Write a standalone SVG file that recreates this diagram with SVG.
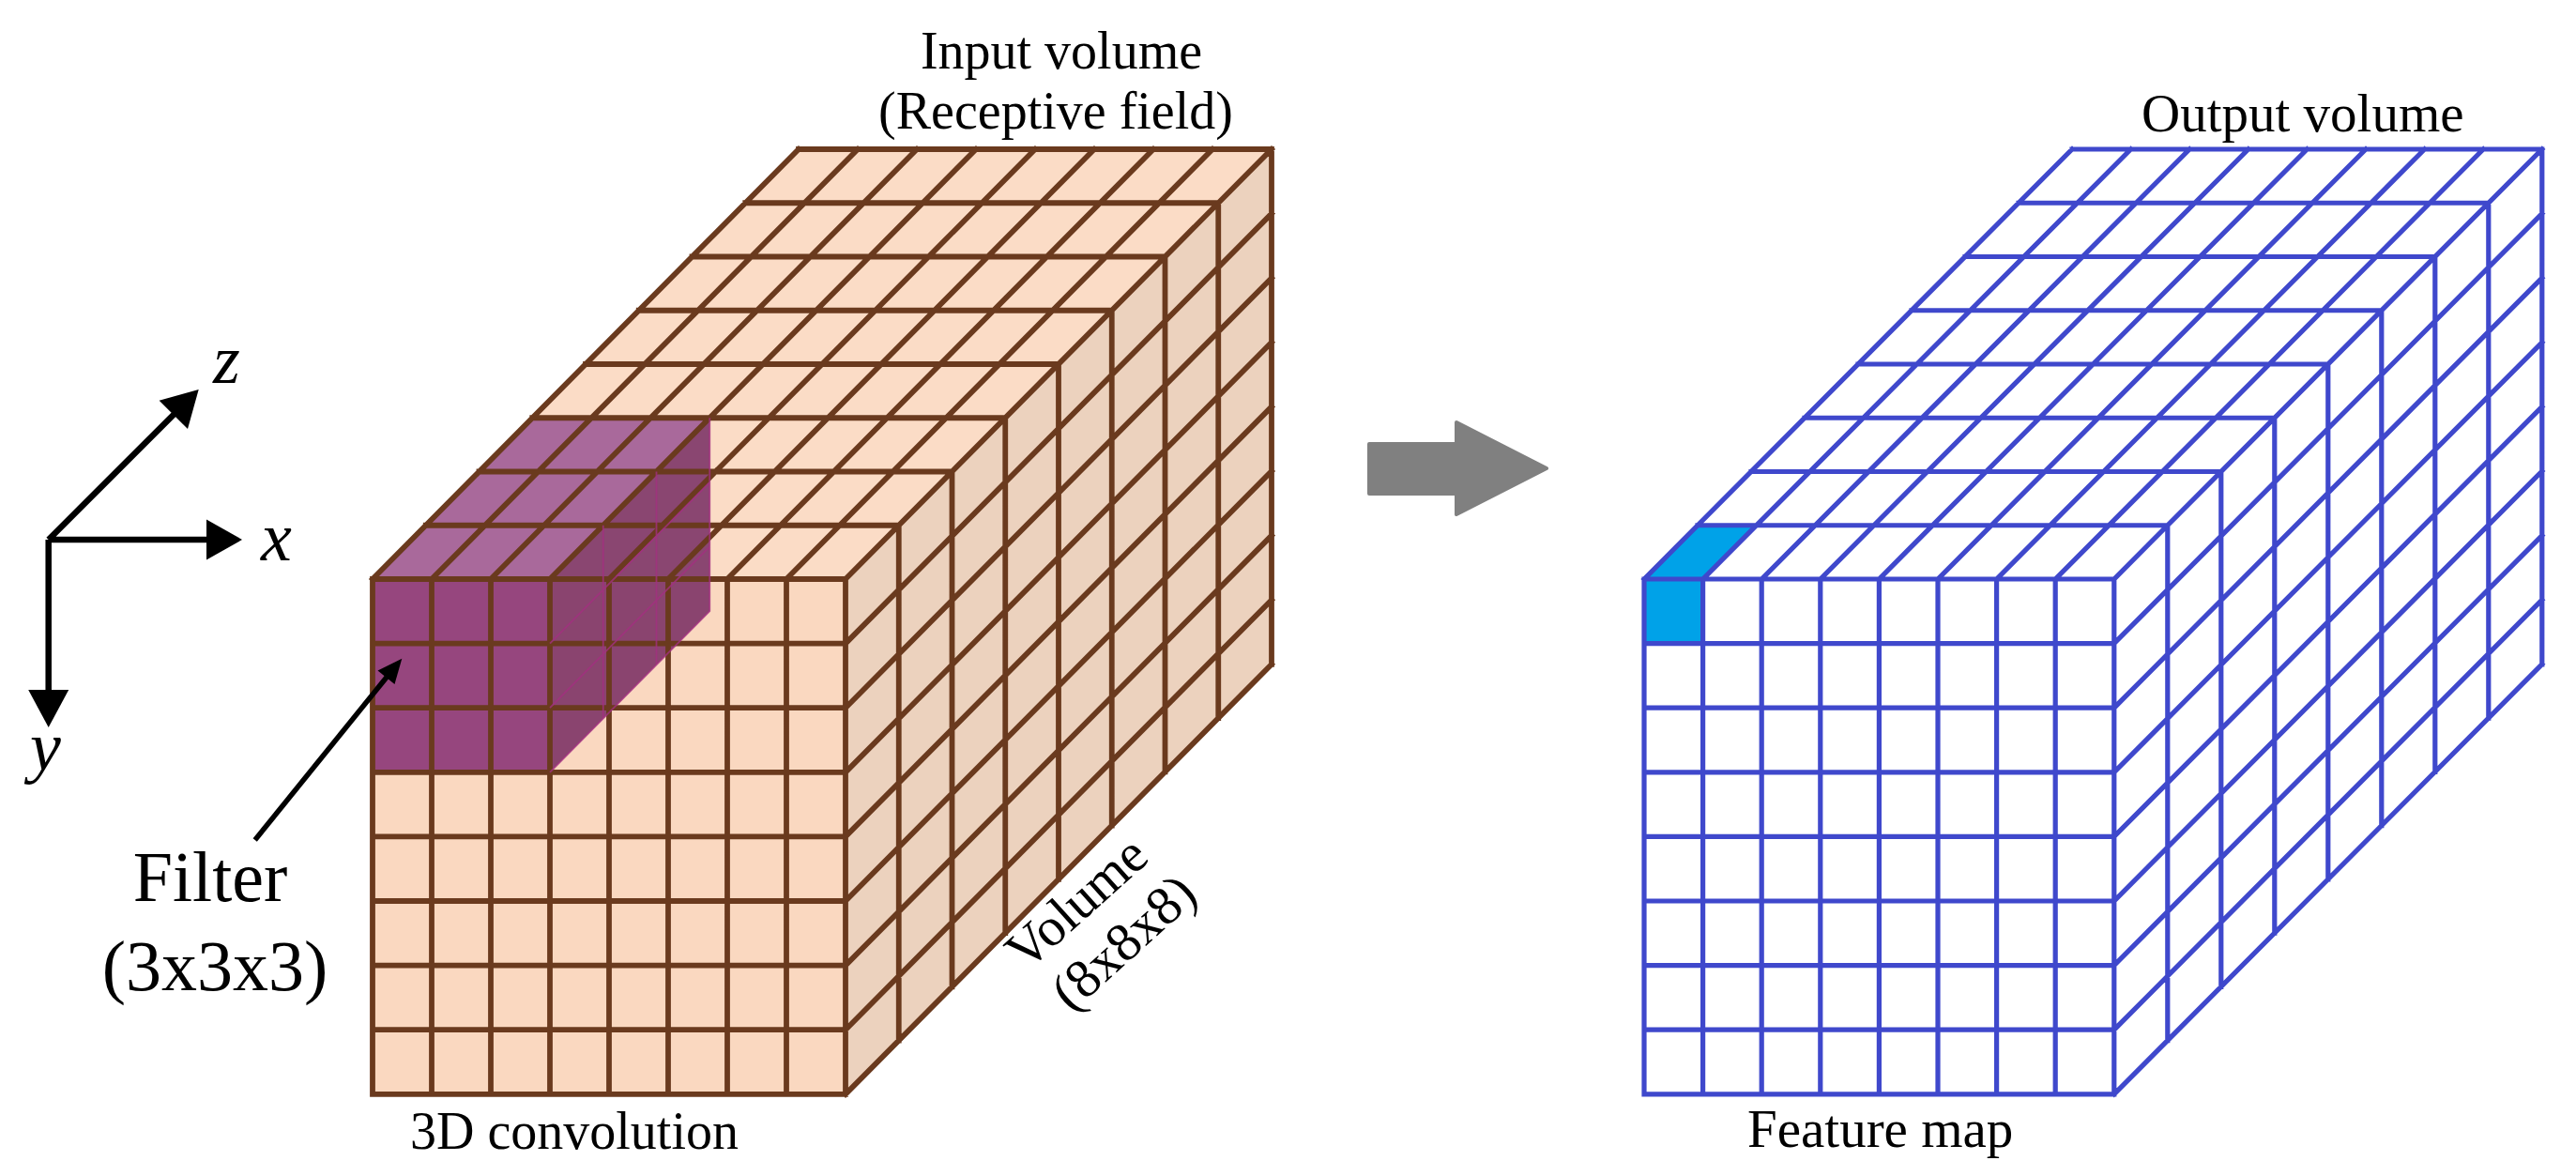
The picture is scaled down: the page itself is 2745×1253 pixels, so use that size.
<svg xmlns="http://www.w3.org/2000/svg" width="2745" height="1253" viewBox="0 0 2745 1253">
<style>
.lbl{font-family:"Liberation Serif","Times New Roman",serif;fill:#000;}
.ax{font-family:"Liberation Serif","Times New Roman",serif;font-style:italic;fill:#000;font-size:74px;}
.brown{fill:none;stroke:#6a3a1e;stroke-width:5.8;stroke-linecap:square;stroke-linejoin:round;}
.blue{fill:none;stroke:#3f48cc;stroke-width:5.2;stroke-linecap:square;stroke-linejoin:round;}
.axis{fill:none;stroke:#000;stroke-width:6.5;}
</style>
<rect width="2745" height="1253" fill="#fff"/>

<g id="axes">
  <path class="axis" d="M51.7,575H225 M51.7,575V740 M51.7,575L190,436.7"/>
  <polygon points="258,575 220,553.5 220,596.5" fill="#000"/>
  <polygon points="51.7,775 30.2,735 73.2,735" fill="#000"/>
  <polygon points="211.7,415 169.6,426.7 200,457.1" fill="#000"/>
  <text class="ax" x="227" y="408">z</text>
  <text class="ax" x="278" y="597">x</text>
  <text class="ax" x="32" y="820">y</text>
</g>

<g id="input-volume">
  <rect x="397" y="617" width="504" height="548.8" fill="#fad8c0"/>
  <polygon points="397,617 901,617 1355,159 851,159" fill="#fbdcc6"/>
  <polygon points="901,617 1355,159 1355,707.8 901,1165.8" fill="#ecd2be"/>
  <g id="filter">
    <rect x="397" y="617" width="189" height="205.8" fill="#96467e"/>
    <polygon points="397,617 586,617 756.25,445.25 567.25,445.25" fill="#a9699b"/>
    <polygon points="586,617 756.25,445.25 756.25,651.05 586,822.8" fill="#5a064d" fill-opacity="0.7"/>
  </g>
  <path class="brown" d="M397,617h504 M397,685.6h504 M397,754.2h504 M397,822.8h504 M397,891.4h504 M397,960h504 M397,1028.6h504 M397,1097.2h504 M397,1165.8h504
  M397,617v548.8 M460,617v548.8 M523,617v548.8 M586,617v548.8 M649,617v548.8 M712,617v548.8 M775,617v548.8 M838,617v548.8 M901,617v548.8
  M453.75,559.75h504 M510.5,502.5h504 M567.25,445.25h504 M624,388h504 M680.75,330.75h504 M737.5,273.5h504 M794.25,216.25h504 M851,159h504
  M397,617l454,-458 M460,617l454,-458 M523,617l454,-458 M586,617l454,-458 M649,617l454,-458 M712,617l454,-458 M775,617l454,-458 M838,617l454,-458 M901,617l454,-458
  M957.75,559.75v548.8 M1014.5,502.5v548.8 M1071.25,445.25v548.8 M1128,388v548.8 M1184.75,330.75v548.8 M1241.5,273.5v548.8 M1298.25,216.25v548.8 M1355,159v548.8
  M901,685.6l454,-458 M901,754.2l454,-458 M901,822.8l454,-458 M901,891.4l454,-458 M901,960l454,-458 M901,1028.6l454,-458 M901,1097.2l454,-458 M901,1165.8l454,-458"/>
  <path d="M586,685.6l170.25,-171.75 M586,754.2l170.25,-171.75 M642.75,559.75v205.8 M699.5,502.5v205.8 M586,822.8L756.25,651.05V445.25" fill="none" stroke="#a2307f" stroke-width="1.8" stroke-opacity="0.8"/>
</g>

<g id="output-volume">
  <rect x="1752" y="617" width="500.8" height="548.8" fill="#fff"/>
  <rect x="1752" y="617" width="62.6" height="68.6" fill="#00a2e8"/>
  <polygon points="1752,617 1814.6,617 1871.6,559.75 1809,559.75" fill="#00a2e8"/>
  <path class="blue" d="M1752,617h500.8 M1752,685.6h500.8 M1752,754.2h500.8 M1752,822.8h500.8 M1752,891.4h500.8 M1752,960h500.8 M1752,1028.6h500.8 M1752,1097.2h500.8 M1752,1165.8h500.8
  M1752,617v548.8 M1814.6,617v548.8 M1877.2,617v548.8 M1939.8,617v548.8 M2002.4,617v548.8 M2065,617v548.8 M2127.6,617v548.8 M2190.2,617v548.8 M2252.8,617v548.8
  M1809,559.75h500.8 M1866,502.5h500.8 M1923,445.25h500.8 M1980,388h500.8 M2037,330.75h500.8 M2094,273.5h500.8 M2151,216.25h500.8 M2208,159h500.8
  M1752,617l456,-458 M1814.6,617l456,-458 M1877.2,617l456,-458 M1939.8,617l456,-458 M2002.4,617l456,-458 M2065,617l456,-458 M2127.6,617l456,-458 M2190.2,617l456,-458 M2252.8,617l456,-458
  M2309.8,559.75v548.8 M2366.8,502.5v548.8 M2423.8,445.25v548.8 M2480.8,388v548.8 M2537.8,330.75v548.8 M2594.8,273.5v548.8 M2651.8,216.25v548.8 M2708.8,159v548.8
  M2252.8,685.6l456,-458 M2252.8,754.2l456,-458 M2252.8,822.8l456,-458 M2252.8,891.4l456,-458 M2252.8,960l456,-458 M2252.8,1028.6l456,-458 M2252.8,1097.2l456,-458 M2252.8,1165.8l456,-458"/>
</g>

<g id="connectors">
  <path d="M271.7,895L412,721.5" fill="none" stroke="#000" stroke-width="5.5"/>
  <polygon points="428.3,701.7 402.5,714.5 420.5,729" fill="#000"/>
  <polygon points="1459,473 1552,473 1552,450 1648,499 1552,548 1552,526 1459,526" fill="#808080" stroke="#808080" stroke-width="4" stroke-linejoin="round"/>
</g>

<g id="labels">
  <text class="lbl" font-size="56" text-anchor="middle" x="1131" y="73">Input volume</text>
  <text class="lbl" font-size="56" text-anchor="middle" x="1125" y="137">(Receptive field)</text>
  <text class="lbl" font-size="57" x="2282" y="140">Output volume</text>
  <text class="lbl" font-size="56" x="437" y="1224">3D convolution</text>
  <text class="lbl" font-size="57" x="1862" y="1222">Feature map</text>
  <text class="lbl" font-size="76" text-anchor="middle" x="224" y="960">Filter</text>
  <text class="lbl" font-size="76" text-anchor="middle" x="229" y="1055">(3x3x3)</text>
  <text class="lbl" font-size="58" text-anchor="middle" transform="translate(1160,976) rotate(-42)">Volume</text>
  <text class="lbl" font-size="58" text-anchor="middle" transform="translate(1210,1018) rotate(-42)">(8x8x8)</text>
</g>
</svg>
